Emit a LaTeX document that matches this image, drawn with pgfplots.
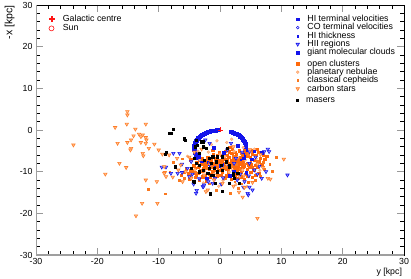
\documentclass[border=0pt]{standalone}
\usepackage{fontspec}
\setmainfont{Liberation Sans}
\usepackage{pgfplots}
\pgfplotsset{compat=1.18}
\definecolor{cblue}{RGB}{20,20,235}
\definecolor{cbluefill}{RGB}{140,140,255}
\definecolor{corange}{RGB}{255,105,10}
\definecolor{ctri}{RGB}{255,125,40}
\definecolor{ctrifill}{RGB}{255,190,140}
\definecolor{cpn}{RGB}{255,165,105}
\definecolor{cceph}{RGB}{250,120,30}
\definecolor{cred}{RGB}{255,20,20}
\pgfplotsset{
 base/.style={scale only axis, width=368bp, height=250bp, xmin=-30, xmax=30, ymin=-30, ymax=30},
 leg/.style={base, hide axis, legend cell align=left,
   legend style={draw=none, fill=none, inner sep=0pt, row sep=0pt, column sep=8bp,
     nodes={inner sep=0pt, text height=6.5bp, text depth=1.8bp}}},
 mHI/.style={only marks, mark=square*, cblue, mark size=1.5bp},
 mHIleg/.style={only marks, mark=square*, cblue, mark size=1.1bp},
 mCO/.style={only marks, mark=o, cblue, mark size=1.3bp, mark options={line width=0.5pt}},
 mHIt/.style={only marks, mark=square*, cblue, mark size=0.8bp},
 mHII/.style={only marks, mark=triangle*, mark size=2.0bp, mark options={rotate=180, draw=cblue, fill=cbluefill, line width=0.55pt}},
 mGMC/.style={only marks, mark=square*, cblue, mark size=1.3bp},
 mOC/.style={only marks, mark=square*, corange, mark size=1.15bp},
 mPN/.style={only marks, mark=*, mark size=1.4bp, mark options={draw=cpn, fill=cpn!70!white}},
 mCE/.style={only marks, mark=square*, cceph, mark size=0.9bp},
 mCS/.style={only marks, mark=triangle*, mark size=2.0bp, mark options={rotate=180, draw=ctri, fill=ctrifill, line width=0.55pt}},
 mMA/.style={only marks, mark=square*, black, mark size=1.1bp},
 mGC/.style={only marks, mark=+, cred, mark size=2.5bp, mark options={cred, line width=0.7pt}},
}
\begin{document}
\begin{tikzpicture}[font=\fontsize{8.8bp}{10bp}\selectfont]
\begin{axis}[base, name=main,
  xtick={-30,-20,...,30}, ytick={-30,-20,...,30},
  minor x tick num=4, minor y tick num=4,
  tick align=inside,
  major tick length=7bp, minor tick length=4bp,
  tick style={black, line width=0.4pt},
  major tick style={gray!80, line width=0.8pt},
  axis line style={black, line width=0.5pt},
  /pgf/number format/assume math mode=true,
  xlabel={y [kpc]}, ylabel={-x [kpc]},
  xlabel style={at={(axis description cs:0.995,-0.05)}, anchor=north east, inner sep=0pt},
  ylabel style={at={(axis description cs:-0.058,1)}, anchor=south east, inner sep=0pt, font=\fontsize{10.5bp}{12bp}\selectfont},
  clip=true]
\draw[gray!75, line width=1.4pt] (rel axis cs:0,1) -- (rel axis cs:0,0) -- (rel axis cs:1,0);
% Sun
\addplot[only marks, mark=o, cred, mark size=2.5bp] coordinates {(0,-8.5)};
% HI terminal velocities (tangent-point ring)
\addplot[mHI] coordinates {
(1.796,-0.398)(2.125,-0.569)(2.438,-0.768)(2.732,-0.995)(3.005,-1.245)(3.256,-1.518)
(3.482,-1.812)(3.681,-2.125)(3.852,-2.454)(3.994,-2.797)(4.105,-3.150)(4.185,-3.512)
(4.234,-3.879)(4.25,-4.25)(4.234,-4.621)(4.185,-4.988)(4.105,-5.350)(3.994,-5.703)
(3.852,-6.046)(3.681,-6.375)(3.482,-6.688)(3.256,-6.982)(3.005,-7.255)(2.732,-7.505)
(2.438,-7.732)(2.125,-7.931)(1.796,-8.102)(1.454,-8.244)(1.100,-8.355)(0.738,-8.435)
(0.371,-8.484)(0,-8.5)(-0.371,-8.484)(-0.738,-8.435)(-1.100,-8.355)(-1.454,-8.244)
(-1.796,-8.102)(-2.125,-7.931)(-2.438,-7.732)(-2.732,-7.505)(-3.005,-7.255)(-3.256,-6.982)
(-3.482,-6.688)(-3.681,-6.375)(-3.852,-6.046)(-3.994,-5.703)(-4.105,-5.350)(-4.185,-4.988)
(-4.234,-4.621)(-4.25,-4.25)(-4.234,-3.879)(-4.185,-3.512)(-4.105,-3.150)(-3.994,-2.797)
(-3.852,-2.454)(-3.681,-2.125)(-3.482,-1.812)(-3.256,-1.518)(-3.005,-1.245)(-2.732,-0.995)
(-2.438,-0.768)(-2.125,-0.569)(-1.796,-0.398)(-1.454,-0.256)(-1.100,-0.145)(-0.738,-0.065)
(-0.371,-0.016)};
\addplot[mHI] coordinates {
(1.962,-0.480)(2.284,-0.666)(2.587,-0.878)(2.871,-1.116)(3.134,-1.379)(3.372,-1.663)
(3.584,-1.966)(3.770,-2.288)(3.927,-2.624)(4.053,-2.972)(4.149,-3.330)(4.213,-3.695)
(4.246,-4.065)(4.246,-4.435)(4.213,-4.805)(4.149,-5.170)(4.053,-5.528)(3.927,-5.876)
(3.770,-6.212)(3.584,-6.534)(3.372,-6.837)(3.134,-7.121)(2.871,-7.384)(2.587,-7.622)
(2.284,-7.834)(1.962,-8.020)(1.626,-8.177)(1.278,-8.303)(0.920,-8.399)(0.555,-8.463)
(0.185,-8.496)(-0.185,-8.496)(-0.555,-8.463)(-0.920,-8.399)(-1.278,-8.303)(-1.626,-8.177)
(-1.962,-8.020)(-2.284,-7.834)(-2.587,-7.622)(-2.871,-7.384)(-3.134,-7.121)(-3.372,-6.837)
(-3.584,-6.534)(-3.770,-6.212)(-3.927,-5.876)(-4.053,-5.528)(-4.149,-5.170)(-4.213,-4.805)
(-4.246,-4.435)(-4.246,-4.065)(-4.213,-3.695)(-4.149,-3.330)(-4.053,-2.972)(-3.927,-2.624)
(-3.770,-2.288)(-3.584,-1.966)(-3.372,-1.663)(-3.134,-1.379)(-2.871,-1.116)(-2.587,-0.878)
(-2.284,-0.666)(-1.962,-0.480)(-1.626,-0.323)(-1.278,-0.197)(-0.920,-0.101)(-0.555,-0.037)};
% CO terminal velocities
\addplot[mCO] coordinates {
(2.3,-0.7)(3.1,-1.4)(3.75,-2.3)(4.15,-3.3)(4.22,-4.4)(4.05,-5.5)(3.6,-6.5)(2.9,-7.3)
(-2.9,-1.15)(-3.6,-2.0)(-4.1,-3.0)(-4.24,-4.1)(-4.1,-5.3)(-3.7,-6.3)(-3.1,-7.1)(-2.2,-7.9)};
% HI thickness
\addplot[mHIt] coordinates {(-4.2,-3.6)(-3.9,-2.6)(4.2,-3.6)(3.9,-5.9)(-3.3,-1.6)(3.3,-1.6)};
% open clusters
\addplot[mOC] coordinates {
(0.2,-8.3)(0.8,-8.0)(1.2,-7.6)(1.6,-8.4)(2.1,-8.1)(2.5,-7.7)(2.9,-8.6)(3.3,-8.2)
(0.5,-9.1)(1.0,-9.4)(1.7,-9.0)(2.3,-9.3)(2.8,-9.8)(3.5,-9.1)(4.0,-8.7)(4.4,-9.4)
(-0.4,-8.8)(-0.9,-8.1)(-1.3,-8.9)(-1.8,-9.4)(-2.2,-8.6)(-2.7,-9.2)(-0.2,-7.4)(0.6,-6.9)
(1.4,-6.6)(2.2,-6.9)(3.0,-7.1)(3.8,-7.5)(4.5,-7.9)(5.1,-8.3)(5.6,-7.2)(4.9,-6.6)
(3.6,-6.2)(2.6,-5.9)(1.9,-5.6)(1.1,-6.0)(0.3,-6.1)(-0.6,-6.7)(-1.5,-7.3)(-2.4,-7.6)
(-3.1,-8.2)(-3.6,-9.0)(-3.0,-9.9)(-2.1,-10.3)(-1.2,-10.0)(-0.3,-9.7)(0.4,-10.2)(1.3,-10.4)
(2.0,-10.8)(2.7,-10.5)(3.4,-10.1)(4.2,-10.6)(5.0,-10.2)(5.5,-9.5)(6.1,-8.9)(6.4,-7.6)
(5.8,-6.1)(4.3,-5.5)(3.1,-5.0)(2.0,-4.6)(0.9,-5.1)(-0.1,-5.4)(-1.1,-5.9)(-2.0,-6.5)
(-2.9,-6.9)(-3.8,-7.7)(-4.3,-8.6)(-4.6,-9.8)(-3.9,-10.7)(-2.8,-11.2)(-1.6,-11.4)(-0.5,-11.0)
(0.7,-11.3)(1.8,-11.8)(3.0,-11.6)(3.9,-11.9)(-5.2,-10.5)(-5.5,-9.3)(1.5,-8.8)(2.4,-8.9)
(0.9,-8.6)(1.9,-7.3)(2.7,-7.4)(3.3,-7.7)(1.2,-7.0)(0.1,-7.8)(-0.6,-7.9)(-1.0,-9.6)
(0.2,-9.5)(2.9,-9.1)(3.8,-8.9)(4.6,-8.4)(5.3,-9.0)(6.8,-8.2)(7.3,-7.0)(-3.4,-11.9)
(-2.3,-12.3)(4.6,-12.6)(5.2,-11.4)(6.3,-10.4)(-1.2,-4.8)(1.6,-4.2)(-4.8,-7.1)
(1.0,-8.9)(1.9,-8.2)(2.6,-9.0)(0.4,-7.4)(1.6,-7.9)(3.0,-8.0)(3.7,-8.3)(2.2,-7.6)
(1.3,-9.7)(2.5,-10.1)(3.6,-9.7)(4.8,-9.0)(5.7,-8.4)(6.6,-6.8)(7.0,-6.0)(6.2,-5.4)
(5.3,-5.7)(4.4,-6.3)(3.3,-6.6)(2.4,-5.3)(1.5,-5.2)(0.6,-5.8)(-0.4,-6.2)(-0.8,-7.2)
(-1.8,-8.0)(-2.6,-8.3)(-3.4,-8.6)(-4.0,-9.2)(-4.9,-9.7)(-4.4,-10.4)(-3.6,-10.4)(-2.4,-10.8)
(-1.7,-10.6)(-0.9,-11.4)(0.1,-10.8)(1.1,-11.0)(2.4,-11.4)(3.5,-11.2)(4.5,-11.1)(5.8,-10.9)
(-5.9,-10.1)(-6.3,-10.8)(-5.0,-11.8)(-4.1,-11.4)(4.0,-5.0)(5.0,-4.9)(6.0,-4.6)(7.6,-6.3)};
% planetary nebulae
\addplot[mPN] coordinates {
(0.3,-8.7)(1.1,-8.2)(-0.7,-7.6)(2.0,-9.6)(-1.6,-8.2)(0.8,-6.4)(2.9,-6.6)(3.7,-9.6)
(-2.5,-9.9)(-0.9,-10.6)(1.5,-10.1)(4.1,-7.2)(-3.3,-7.2)(0.0,-5.8)(2.3,-5.1)(-1.9,-5.3)
(4.9,-5.3)(5.9,-6.9)(-4.1,-9.5)(3.2,-11.1)(0.5,-12.1)(-2.7,-12.7)(6.5,-9.7)(-1.4,-3.5)
(1.1,-3.0)(-2.6,-3.9)(3.8,-4.2)(-3.6,-5.1)(5.6,-4.6)(7.1,-5.4)(-5.3,-6.3)(2.6,-13.1)
(-0.2,-13.5)(4.4,-13.6)(1.9,-2.2)(-0.5,-2.6)};
% classical cepheids
\addplot[mCE] coordinates {
(-0.5,-8.2)(0.9,-9.0)(1.8,-8.6)(2.6,-8.3)(3.2,-9.4)(-1.4,-8.6)(-2.3,-9.1)(-3.2,-9.6)
(-4.0,-10.1)(-4.9,-10.9)(-5.8,-11.5)(-6.6,-12.0)(4.1,-8.1)(5.0,-7.6)(6.0,-7.4)(7.0,-7.8)
(8.1,-8.3)(1.1,-7.3)(0.3,-6.7)(2.2,-6.2)(3.4,-5.7)(4.6,-5.9)(-1.3,-6.3)(-2.1,-7.0)
(-0.4,-10.6)(0.8,-11.7)(2.4,-12.4)(3.5,-12.9)(-1.8,-12.9)(5.7,-12.1)(6.6,-11.0)(7.2,-9.4)
(-0.6,-14.5)(1.6,-15.1)(-7.6,-7.8)(-6.1,-6.9)(9.1,-6.6)(8.5,-9.9)(3.0,-14.0)(-8.2,-10.2)
(-8.9,-15.3)(-11.7,-14.2)};
% HII regions
\addplot[mHII] coordinates {
(-6.6,-5.6)(-7.6,-5.6)(-9.5,-8.9)(-8.8,-8.9)(-8.0,-10.4)(-6.2,-10.2)(-6.2,-8.2)(-4.5,-10.6)
(-4.3,-13.0)(-3.8,-14.5)(-2.8,-13.6)(11.0,-10.8)(7.5,-10.0)(6.1,-10.6)(6.8,-11.6)(8.0,-5.2)
(7.2,-5.2)(4.7,-11.0)(4.8,-13.7)(3.8,-13.7)(4.6,-15.6)(4.8,-8.0)(-2.7,-13.6)(2.3,-8.0)
(4.0,-12.4)(5.3,-14.4)(4.5,-15.2)(-6.9,-10.4)(-5.3,-9.2)(-5.0,-11.2)(-3.9,-15.2)(-2.6,-13.2)
(-1.9,-12.4)(-1.2,-12.8)(-1.5,-8.0)(-4.7,-7.6)(-2.4,-2.4)(-1.7,-3.2)(1.8,-3.2)(4.8,-5.2)
(7.8,-4.6)(1.2,-4.8)(0.5,-11.5)(2.8,-12.0)(3.3,-10.6)(5.6,-9.6)(2.6,-6.8)(-0.8,-11.6)
(3.6,-5.3)(5.8,-6.5)(6.4,-8.7)(0.2,-13.0)(-3.4,-11.7)};
% giant molecular clouds
\addplot[mGMC] coordinates {
(6.8,-5.4)(5.6,-5.1)(2.9,-3.8)(-1.0,-4.2)(3.9,-6.8)(-2.2,-11.6)(1.6,-11.0)(4.3,-10.2)
(-3.5,-6.4)(0.6,-5.4)(5.2,-7.0)(2.2,-9.9)};
% carbon stars
\addplot[mCS] coordinates {
(-15.1,4.4)(-15.1,3.6)(-17.1,0.6)(-15.2,1.4)(-13.8,0.2)(-12.1,1.4)(-16.7,-3.2)(-15.1,-3.0)
(-14.5,-2.4)(-14.1,-1.4)(-13.2,-1.0)(-12.9,-1.6)(-12.6,-1.2)(-12.1,-1.8)(-12.0,-2.4)(-12.9,-3.0)
(-14.5,-4.4)(-14.6,-4.8)(-12.1,-3.2)(-10.7,-3.4)(-11.6,-4.4)(-12.6,-5.6)(-12.5,-6.2)(-10.0,-4.8)
(-23.9,-3.6)(-16.4,-8.0)(-15.3,-9.0)(-18.7,-10.6)(-12.1,-12.0)(-10.3,-12.4)(-12.7,-17.6)
(-10.2,-17.6)(-13.7,-20.6)(-9.1,-8.8)(-9.0,-10.2)(-7.7,-11.3)(-8.3,-6.0)(-9.4,-5.8)(-6.1,-12.4)
(-4.7,-11.6)(-9.1,-10.4)(-8.8,-11.2)(-6.4,-8.4)(-2.3,-14.8)(-2.0,-14.4)(10.4,-7.0)(6.1,-8.2)
(7.8,-11.6)(8.2,-11.8)(6.1,-21.2)(3.7,-16.1)(3.1,-14.9)(-5.0,-6.5)(-4.2,-5.3)(-3.0,-4.6)
(-6.8,-9.6)(-5.6,-10.0)(-7.0,-6.8)(2.2,-4.0)(4.9,-4.7)(6.6,-5.9)(3.9,-11.0)(5.3,-12.6)
(4.0,-13.8)(2.2,-13.5)(-1.0,-12.0)(7.0,-9.0)(-2.6,-10.8)(0.4,-12.8)};
% masers
\addplot[mMA] coordinates {
(-7.6,0.2)(-8.0,-0.8)(-5.9,-2.2)(-5.7,-2.4)(-8.8,-5.4)(-9.0,-5.8)(-7.3,-8.8)(-4.3,-12.2)
(-3.4,-8.4)(0.3,-14.6)(-1.6,-15.3)(-0.8,-12.8)(-5.8,-2.0)(-3.7,-3.6)(-2.8,-2.8)(-2.3,-4.4)
(-3.4,-5.6)(-4.2,-6.8)(-2.6,-7.2)(-1.5,-8.0)(-1.2,-6.4)(-1.7,-9.2)(-0.65,-7.6)(0.2,-8.4)
(0.4,-6.4)(1.0,-7.6)(-2.0,-10.4)(-2.8,-9.6)(-1.2,-10.8)(-0.4,-10.0)(-3.9,-8.0)(-4.7,-9.2)
(1.2,-4.4)(-3.9,-2.4)(-3.4,-10.0)(0.4,-9.6)(1.5,-8.8)(2.1,-10.4)(-2.8,-4.0)(-1.7,-6.8)
(-0.9,-9.2)(2.1,-10.8)(1.5,-12.8)(-1.5,-10.8)(1.5,-8.4)(2.9,-10.4)(3.1,-12.8)(2.3,-11.6)
(-4.2,-12.4)(-8.2,-0.8)(-4.0,-4.0)(-3.1,-2.8)(-0.4,-6.4)};
% Galactic centre
\addplot[mGC] coordinates {(0,0)};
\end{axis}
% legend: Galactic centre / Sun
\begin{axis}[leg, legend style={at={(0.034,0.961)}, anchor=north west, row sep=1bp, column sep=8.5bp}]
\addlegendimage{legend image code/.code={\fill[cred] (-2.6bp,-0.45bp) rectangle (2.6bp,0.45bp); \fill[cred] (-0.45bp,-2.6bp) rectangle (0.45bp,2.6bp);}}
\addlegendentry{Galactic centre}
\addlegendimage{legend image code/.code={\draw[cred, line width=0.6pt] (0pt,0pt) circle (2.5bp);}}
\addlegendentry{Sun}
\end{axis}
% legend: gas tracers
\begin{axis}[leg, legend style={at={(0.706,0.96)}, anchor=north west}]
\addlegendimage{mHIleg}\addlegendentry{HI terminal velocities}
\addlegendimage{mCO}\addlegendentry{CO terminal velocities}
\addlegendimage{mHIt}\addlegendentry{HI thickness}
\addlegendimage{mHII}\addlegendentry{HII regions}
\addlegendimage{mGMC}\addlegendentry{giant molecular clouds}
\end{axis}
% legend: stellar tracers
\begin{axis}[leg, legend style={at={(0.706,0.782)}, anchor=north west}]
\addlegendimage{mOC}\addlegendentry{open clusters}
\addlegendimage{mPN}\addlegendentry{planetary nebulae}
\addlegendimage{mCE}\addlegendentry{classical cepheids}
\addlegendimage{mCS}\addlegendentry{carbon stars}
\end{axis}
% legend: masers
\begin{axis}[leg, legend style={at={(0.706,0.637)}, anchor=north west}]
\addlegendimage{mMA}\addlegendentry{masers}
\end{axis}
\pgfresetboundingbox
\path[use as bounding box] ([xshift=-36bp,yshift=-24bp]main.south west) rectangle ([xshift=7bp,yshift=5bp]main.north east);
\end{tikzpicture}
\end{document}
